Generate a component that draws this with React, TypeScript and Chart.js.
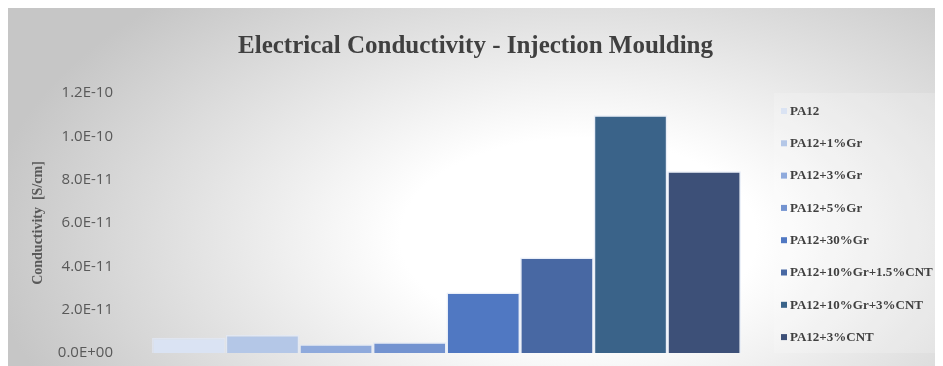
import React, { useEffect, useRef } from "react";
import { Chart, registerables } from "chart.js";

Chart.register(...registerables);

// Materials (one bar per formulation) and their measured conductivity in S/cm
const materials = [
  "PA12",
  "PA12+1%Gr",
  "PA12+3%Gr",
  "PA12+5%Gr",
  "PA12+30%Gr",
  "PA12+10%Gr+1.5%CNT",
  "PA12+10%Gr+3%CNT",
  "PA12+3%CNT",
];
const conductivity = [7.0e-12, 8.3e-12, 4.0e-12, 5.0e-12, 2.79e-11, 4.41e-11, 1.097e-10, 8.39e-11];
const barColors = [
  "#DAE3F3",
  "#B4C7E7",
  "#8FAADC",
  "#7393D0",
  "#5078C2",
  "#4868A3",
  "#3A6389",
  "#3D5078",
];
const yTickValues = [0, 2e-11, 4e-11, 6e-11, 8e-11, 1e-10, 1.2e-10];
const yTickLabels = ["0.0E+00", "2.0E-11", "4.0E-11", "6.0E-11", "8.0E-11", "1.0E-10", "1.2E-10"];

const SERIF = "'Liberation Serif', 'Times New Roman', serif";

// Soft radial backdrop behind everything
const backdrop = {
  id: "backdrop",
  beforeDraw(chart: any) {
    const { ctx, width, height } = chart;
    ctx.save();
    const cx = width * 0.61;
    const cy = height * 0.64;
    const sx = 1.8;
    ctx.translate(cx, cy);
    ctx.scale(sx, 1);
    const g = ctx.createRadialGradient(0, 0, 0, 0, 0, 330);
    g.addColorStop(0, "#ffffff");
    g.addColorStop(0.3, "#ffffff");
    g.addColorStop(1, "#c6c6c6");
    ctx.fillStyle = g;
    ctx.fillRect(-cx / sx, -cy, width / sx, height);
    ctx.restore();
  },
};

// Legend column to the right of the plot: light panel, small square keys, bold serif labels
const sideLegend = {
  id: "sideLegend",
  beforeDatasetsDraw(chart: any) {
    const { ctx, width, chartArea } = chart;
    const left = chartArea.right;
    ctx.save();
    ctx.fillStyle = "rgba(255,255,255,0.18)";
    ctx.fillRect(left, chartArea.top, width - 2 - left, chartArea.bottom - chartArea.top);
    ctx.restore();
  },
  afterDraw(chart: any) {
    const { ctx, chartArea } = chart;
    const x0 = chartArea.right;
    const firstY = chartArea.top + 18;
    const step = 32.3;
    ctx.save();
    ctx.font = `bold 13px ${SERIF}`;
    ctx.textBaseline = "middle";
    ctx.textAlign = "left";
    materials.forEach((name, i) => {
      const y = firstY + i * step;
      ctx.fillStyle = barColors[i];
      ctx.fillRect(x0 + 7, y - 3, 6, 6);
      ctx.fillStyle = "#404040";
      ctx.fillText(name, x0 + 16, y + 0.5);
    });
    ctx.restore();
  },
};

export default function App() {
  const canvasRef = useRef<HTMLCanvasElement | null>(null);

  useEffect(() => {
    if (!canvasRef.current) return;
    const chart = new Chart(canvasRef.current, {
      type: "bar",
      data: {
        labels: [""],
        datasets: materials.map((name, i) => ({
          label: name,
          data: [conductivity[i]],
          backgroundColor: barColors[i],
          borderColor: "rgba(225,232,245,0.75)",
          borderWidth: 1.5,
          barPercentage: 1,
          categoryPercentage: 0.899,
          yAxisID: "y",
        })),
      },
      options: {
        responsive: false,
        animation: false,
        layout: { padding: { top: 0, right: 0, bottom: 13, left: 0 } },
        plugins: {
          title: {
            display: true,
            text: "Electrical Conductivity - Injection Moulding",
            color: "#404040",
            font: { family: SERIF, size: 25, weight: "bold" },
            padding: { top: 24, bottom: 31 },
          },
          legend: { display: false },
          tooltip: { enabled: false },
        },
        scales: {
          x: {
            display: false,
            grid: { display: false },
          },
          y: {
            min: 0,
            max: 1.2e-10,
            afterFit: (scale: any) => {
              scale.width = 111;
              scale.paddingTop = 0;
              scale.paddingBottom = 0;
            },
            afterBuildTicks: (scale: any) => {
              scale.ticks = yTickValues.map((v) => ({ value: v }));
            },
            grid: { display: false, drawTicks: false },
            border: { display: false },
            ticks: {
              padding: 6,
              color: "#595959",
              font: { family: "'Open Sans', sans-serif", size: 15 },
              callback: (_v: any, index: number) => yTickLabels[index],
            },
            title: {
              display: true,
              text: "Conductivity  [S/cm]",
              color: "#595959",
              font: { family: SERIF, size: 14, weight: "bold" },
              padding: { top: 21.6, bottom: 0 },
            },
          },
          // empty right-hand column that keeps room for the legend
          legendSpace: {
            type: "linear",
            position: "right",
            min: 0,
            max: 1,
            afterFit: (scale: any) => {
              scale.width = 169;
              scale.paddingTop = 0;
              scale.paddingBottom = 0;
            },
            grid: { display: false, drawTicks: false },
            border: { display: false },
            ticks: { display: false },
          },
        },
      },
      plugins: [backdrop, sideLegend],
    });
    return () => chart.destroy();
  }, []);

  return <canvas ref={canvasRef} width={935} height={358} style={{ display: "block" }} />;
}
